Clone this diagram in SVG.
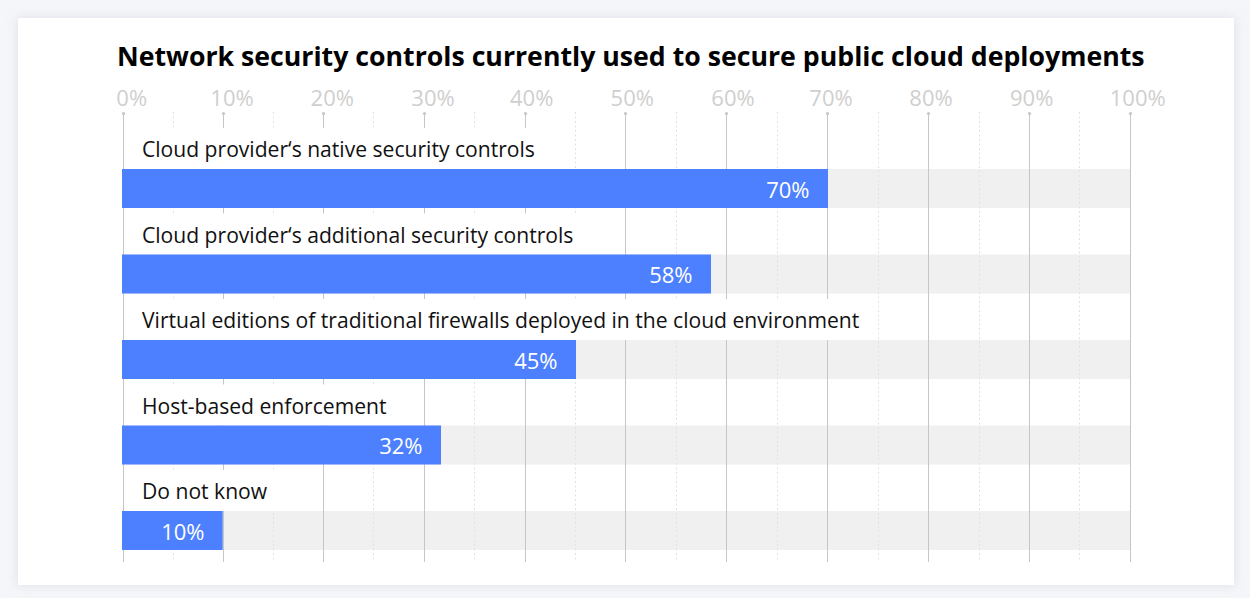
<svg xmlns="http://www.w3.org/2000/svg" width="1250" height="598" viewBox="0 0 1250 598">
  <defs>
    <filter id="cardShadow" x="-5%" y="-5%" width="110%" height="110%">
      <feDropShadow dx="0" dy="0" stdDeviation="6" flood-color="#9aa0b8" flood-opacity="0.28"/>
    </filter>
    <style>
      .title { font-family: "Open Sans", "Noto Sans", sans-serif; font-weight: 700; font-size: 26.7px; fill: #000; }
      .axis { font-family: "Open Sans", "Noto Sans", sans-serif; font-size: 22px; fill: #cfcfcf; text-anchor: middle; }
      .grid { stroke: #c6c6c6; stroke-width: 1; }
      .minor { stroke: #e2e2e2; stroke-width: 1; stroke-dasharray: 2 2.5; }
      .tickdot { fill: #c6c6c6; }
      .track { fill: #f0f0f0; }
      .bar { fill: #4d80fe; }
      .labelbg { fill: #ffffff; }
      .label { font-family: "Open Sans", "Noto Sans", sans-serif; font-size: 21.1px; fill: #111; }
      .value { font-family: "Open Sans", "Noto Sans", sans-serif; font-size: 22px; fill: #ffffff; text-anchor: end; }
    </style>
  </defs>

  <!-- page background and card -->
  <rect x="0" y="0" width="1250" height="598" fill="#f5f6f9"/>
  <rect x="18" y="18" width="1216" height="567" fill="#ffffff" filter="url(#cardShadow)"/>

  <text class="title" x="117" y="66">Network security controls currently used to secure public cloud deployments</text>

  <!-- axis scale -->
  <g id="axis-labels">
    <text class="axis" x="131.7" y="106">0%</text>
    <text class="axis" x="232" y="106">10%</text>
    <text class="axis" x="332.3" y="106">20%</text>
    <text class="axis" x="433" y="106">30%</text>
    <text class="axis" x="531.7" y="106">40%</text>
    <text class="axis" x="632.3" y="106">50%</text>
    <text class="axis" x="733" y="106">60%</text>
    <text class="axis" x="831" y="106">70%</text>
    <text class="axis" x="931" y="106">80%</text>
    <text class="axis" x="1031.7" y="106">90%</text>
    <text class="axis" x="1137.7" y="106">100%</text>
  </g>

  <!-- background tracks -->
  <g id="tracks">
    <rect class="track" x="122" y="169" width="1008" height="39"/>
    <rect class="track" x="122" y="254.5" width="1008" height="39"/>
    <rect class="track" x="122" y="340" width="1008" height="39"/>
    <rect class="track" x="122" y="425.5" width="1008" height="39"/>
    <rect class="track" x="122" y="511" width="1008" height="39"/>
  </g>

  <!-- gridlines -->
  <g id="gridlines">
    <line class="minor" x1="173.5" y1="112" x2="173.5" y2="562"/>
    <line class="minor" x1="273.5" y1="112" x2="273.5" y2="562"/>
    <line class="minor" x1="373.5" y1="112" x2="373.5" y2="562"/>
    <line class="minor" x1="474.5" y1="112" x2="474.5" y2="562"/>
    <line class="minor" x1="575.5" y1="112" x2="575.5" y2="562"/>
    <line class="minor" x1="676.5" y1="112" x2="676.5" y2="562"/>
    <line class="minor" x1="777.5" y1="112" x2="777.5" y2="562"/>
    <line class="minor" x1="878.5" y1="112" x2="878.5" y2="562"/>
    <line class="minor" x1="979.5" y1="112" x2="979.5" y2="562"/>
    <line class="minor" x1="1079.5" y1="112" x2="1079.5" y2="562"/>

    <line class="grid" x1="123.5" y1="113" x2="123.5" y2="562"/>
    <line class="grid" x1="223.5" y1="113" x2="223.5" y2="562"/>
    <line class="grid" x1="323.5" y1="113" x2="323.5" y2="562"/>
    <line class="grid" x1="424.5" y1="113" x2="424.5" y2="562"/>
    <line class="grid" x1="525.5" y1="113" x2="525.5" y2="562"/>
    <line class="grid" x1="625.5" y1="113" x2="625.5" y2="562"/>
    <line class="grid" x1="726.5" y1="113" x2="726.5" y2="562"/>
    <line class="grid" x1="827.5" y1="113" x2="827.5" y2="562"/>
    <line class="grid" x1="928.5" y1="113" x2="928.5" y2="562"/>
    <line class="grid" x1="1029.5" y1="113" x2="1029.5" y2="562"/>
    <line class="grid" x1="1130.5" y1="113" x2="1130.5" y2="562"/>

    <circle class="tickdot" cx="123.5" cy="113.5" r="1.6"/>
    <circle class="tickdot" cx="223.5" cy="113.5" r="1.6"/>
    <circle class="tickdot" cx="323.5" cy="113.5" r="1.6"/>
    <circle class="tickdot" cx="424.5" cy="113.5" r="1.6"/>
    <circle class="tickdot" cx="525.5" cy="113.5" r="1.6"/>
    <circle class="tickdot" cx="625.5" cy="113.5" r="1.6"/>
    <circle class="tickdot" cx="726.5" cy="113.5" r="1.6"/>
    <circle class="tickdot" cx="827.5" cy="113.5" r="1.6"/>
    <circle class="tickdot" cx="928.5" cy="113.5" r="1.6"/>
    <circle class="tickdot" cx="1029.5" cy="113.5" r="1.6"/>
    <circle class="tickdot" cx="1130.5" cy="113.5" r="1.6"/>
  </g>

  <!-- one group per category row -->
  <g id="row-native">
    <rect class="labelbg" x="124.5" y="128" width="428" height="41"/>
    <text class="label" x="142" y="157">Cloud provider‘s native security controls</text>
    <rect class="bar" x="122" y="169" width="706" height="39"/>
    <text class="value" x="809.5" y="197.5">70%</text>
  </g>

  <g id="row-additional">
    <rect class="labelbg" x="124.5" y="213.5" width="465" height="41"/>
    <text class="label" x="142" y="242.5">Cloud provider‘s additional security controls</text>
    <rect class="bar" x="122" y="254.5" width="589" height="39"/>
    <text class="value" x="692.5" y="283">58%</text>
  </g>

  <g id="row-virtual">
    <rect class="labelbg" x="124.5" y="299" width="748" height="41"/>
    <text class="label" x="142" y="328">Virtual editions of traditional firewalls deployed in the cloud environment</text>
    <rect class="bar" x="122" y="340" width="454" height="39"/>
    <text class="value" x="557.5" y="368.5">45%</text>
  </g>

  <g id="row-host">
    <rect class="labelbg" x="124.5" y="384.5" width="276" height="41"/>
    <text class="label" x="142" y="413.5">Host-based enforcement</text>
    <rect class="bar" x="122" y="425.5" width="319" height="39"/>
    <text class="value" x="422.5" y="454">32%</text>
  </g>

  <g id="row-unknown">
    <rect class="labelbg" x="124.5" y="470" width="157" height="41"/>
    <text class="label" x="142" y="499">Do not know</text>
    <rect class="bar" x="122" y="511" width="100.7" height="39"/>
    <text class="value" x="204.5" y="539.5">10%</text>
  </g>
</svg>
